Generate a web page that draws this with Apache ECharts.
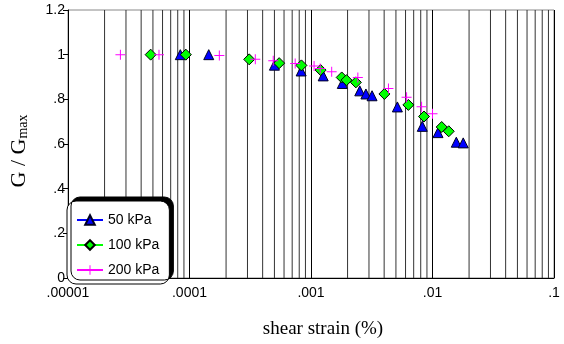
<!DOCTYPE html>
<html>
<head>
<meta charset="utf-8">
<script src="https://cdn.jsdelivr.net/npm/echarts@6/dist/echarts.min.js"></script>
<style>
  html, body { margin: 0; padding: 0; background: #fff; }
  #chart { width: 564px; height: 344px; }
</style>
</head>
<body>
<div id="chart"></div>
<script>
// shear strain (%) and G/Gmax
const strain50 = [8.4e-5, 1.44e-4, 5.0e-4, 8.3e-4, 1.26e-3, 1.81e-3, 2.52e-3, 2.83e-3, 3.18e-3, 5.14e-3, 8.24e-3, 1.11e-2, 1.57e-2, 1.79e-2];
const ratio50  = [1.0, 1.0, 0.953, 0.927, 0.905, 0.871, 0.838, 0.824, 0.816, 0.766, 0.679, 0.651, 0.608, 0.605];

const strain100 = [4.79e-5, 9.33e-5, 3.1e-4, 5.47e-4, 8.34e-4, 1.2e-3, 1.79e-3, 1.96e-3, 2.34e-3, 4.02e-3, 6.33e-3, 8.51e-3, 1.19e-2, 1.36e-2];
const ratio100  = [1.0, 1.0, 0.979, 0.962, 0.952, 0.931, 0.898, 0.886, 0.876, 0.824, 0.775, 0.723, 0.676, 0.657];

const strain200 = [2.7e-5, 5.61e-5, 1.76e-4, 3.48e-4, 4.89e-4, 7.41e-4, 1.06e-3, 1.19e-3, 1.48e-3, 2.43e-3, 4.34e-3, 6.12e-3, 8.13e-3, 1.0e-2];
const ratio200  = [1.0, 1.0, 0.996, 0.979, 0.973, 0.960, 0.949, 0.938, 0.924, 0.898, 0.848, 0.809, 0.767, 0.736];

const seriesNames = ['50 kPa', '100 kPa', '200 kPa'];
const xTickLabels = { '0.00001': '.00001', '0.0001': '.0001', '0.001': '.001', '0.01': '.01', '0.1': '.1' };
const yTickLabels = { '0': '0', '0.2': '.2', '0.4': '.4', '0.6': '.6', '0.8': '.8', '1': '1', '1.2': '1.2' };

// log minor grid lines: 2..9 times each decade
const decades = [1e-5, 1e-4, 1e-3, 1e-2];
const multipliers = [2, 3, 4, 5, 6, 7, 8, 9];
const yMin = 0, yMax = 1.2;

const pairs = (xs, ys) => xs.map((x, i) => [x, ys[i]]);
const minorValues = [];
decades.forEach(d => multipliers.forEach(m => minorValues.push([d * m])));

const plusPath = 'path://M4.5,0h1v10h-1zM0,4.5h10v1h-10z';
const sans = '"Liberation Sans", Arial, sans-serif';
const serif = '"Liberation Serif", "Times New Roman", serif';

const chart = echarts.init(document.getElementById('chart'), null, { renderer: 'canvas' });

chart.setOption({
  animation: false,
  backgroundColor: '#fff',
  grid: {
    left: 66, right: 10, top: 10, bottom: 63,
    show: true, borderColor: '#888', borderWidth: 1, backgroundColor: 'transparent'
  },
  legend: {
    data: seriesNames,
    orient: 'vertical',
    left: 67,
    top: 201,
    padding: [12, 10, 7, 9],
    itemWidth: 26,
    itemHeight: 12,
    itemGap: 11,
    backgroundColor: '#fff',
    borderColor: '#000',
    borderWidth: 1,
    borderRadius: 9,
    shadowColor: '#000',
    shadowBlur: 0,
    shadowOffsetX: 4,
    shadowOffsetY: -4,
    lineStyle: { width: 2 },
    textStyle: { fontFamily: sans, fontSize: 14, color: '#000' }
  },
  xAxis: {
    type: 'log',
    logBase: 10,
    min: 1e-5,
    max: 0.1,
    name: 'shear strain (%)',
    nameLocation: 'middle',
    nameGap: 42,
    nameTextStyle: { fontFamily: serif, fontSize: 19, color: '#000', padding: [0, 0, 0, 24] },
    axisLine: { show: true, lineStyle: { color: '#000', width: 1 } },
    axisTick: { show: false },
    axisLabel: {
      fontFamily: sans, fontSize: 14, color: '#000', margin: 8,
      formatter: v => xTickLabels[String(v)] ?? String(v)
    },
    splitLine: { show: true, lineStyle: { color: '#000', width: 1 } }
  },
  yAxis: {
    type: 'value',
    min: yMin,
    max: yMax,
    interval: 0.2,
    name: '{g|G / G}{s|max}',
    nameLocation: 'middle',
    nameGap: 38,
    nameTextStyle: {
      rich: {
        g: { fontFamily: serif, fontSize: 22, color: '#000' },
        s: { fontFamily: serif, fontSize: 14, color: '#000', verticalAlign: 'bottom', padding: [8, 14, 0, 0] }
      }
    },
    axisLine: { show: true, lineStyle: { color: '#000', width: 1 } },
    axisTick: { show: true, inside: false, length: 5, lineStyle: { color: '#000' } },
    axisLabel: {
      fontFamily: sans, fontSize: 14, color: '#000', margin: 3,
      formatter: v => yTickLabels[String(Math.round(v * 10) / 10)] ?? String(v)
    },
    splitLine: { show: false }
  },
  series: [
    {
      name: 'minor',
      type: 'custom',
      data: minorValues,
      silent: true,
      z: 1,
      renderItem: (params, api) => {
        const x = api.value(0);
        const p0 = api.coord([x, yMin]);
        const p1 = api.coord([x, yMax]);
        return {
          type: 'line',
          shape: { x1: p0[0], y1: p0[1], x2: p1[0], y2: p1[1] },
          style: { stroke: '#333', lineWidth: 1 }
        };
      }
    },
    {
      name: seriesNames[0],
      type: 'line',
      data: pairs(strain50, ratio50),
      symbol: 'triangle',
      symbolSize: 10,
      z: 3,
      color: '#0000ff',
      lineStyle: { width: 0 },
      itemStyle: { color: '#0000ff', borderColor: '#000022', borderWidth: 1 }
    },
    {
      name: seriesNames[1],
      type: 'line',
      data: pairs(strain100, ratio100),
      symbol: 'diamond',
      symbolSize: 11,
      z: 4,
      color: '#00ff00',
      lineStyle: { width: 0 },
      itemStyle: { color: '#00ff00', borderColor: '#000', borderWidth: 1 }
    },
    {
      name: seriesNames[2],
      type: 'line',
      data: pairs(strain200, ratio200),
      symbol: plusPath,
      symbolSize: 10,
      z: 5,
      color: '#ff00ff',
      lineStyle: { width: 0 },
      itemStyle: { color: '#ff00ff', borderWidth: 0 }
    }
  ]
});
</script>
</body>
</html>
